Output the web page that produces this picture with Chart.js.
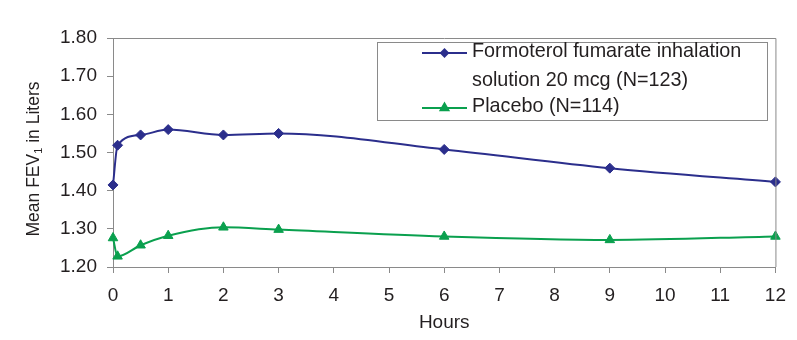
<!DOCTYPE html>
<html>
<head>
<meta charset="utf-8">
<script src="https://cdn.jsdelivr.net/npm/chart.js@4"></script>
<style>
  body { margin: 0; background: #fff; }
  #wrap { width: 797px; height: 340px; }
</style>
</head>
<body>
<div id="wrap"><canvas id="fevChart" width="797" height="340"></canvas></div>
<script>
  // Hours after dose and mean FEV1 (L) for each arm
  const hours = [0, 0.083, 0.5, 1, 2, 3, 6, 9, 12];
  const formoterol = [1.415, 1.519, 1.546, 1.560, 1.546, 1.550, 1.508, 1.459, 1.423];
  const placebo = [1.276, 1.228, 1.257, 1.282, 1.304, 1.298, 1.280, 1.271, 1.280];
  const seriesNames = [['Formoterol fumarate inhalation', 'solution 20 mcg (N=123)'], ['Placebo (N=114)']];
  const xTicks = [0, 1, 2, 3, 4, 5, 6, 7, 8, 9, 10, 11, 12];
  const yTicks = [1.2, 1.3, 1.4, 1.5, 1.6, 1.7, 1.8];

  const blue = '#2b2e8c';
  const green = '#0aa04e';
  const ink = '#231f20';
  const axisGrey = '#8a8a8a';
  const fontFamily = '"Liberation Sans", Arial, sans-serif';

  const toPoints = (ys) => ys.map((y, i) => ({ x: hours[i], y: y }));

  // frame, y title with subscript and the boxed legend
  const decorations = {
    id: 'decorations',
    afterDraw(chart) {
      const ctx = chart.ctx;
      const a = chart.chartArea;
      ctx.save();
      ctx.strokeStyle = axisGrey;
      ctx.lineWidth = 1;
      ctx.beginPath();
      ctx.moveTo(a.left, a.top + 0.5);
      ctx.lineTo(a.right + 0.5, a.top + 0.5);
      ctx.lineTo(a.right + 0.5, a.bottom);
      ctx.stroke();

      // y axis title: Mean FEV1 in Liters
      ctx.fillStyle = ink;
      ctx.translate(34, 159);
      ctx.rotate(-Math.PI / 2);
      ctx.textBaseline = 'middle';
      const big = '17.5px ' + fontFamily;
      const small = '11px ' + fontFamily;
      const parts = ['Mean FEV', '1', ' in Liters'];
      ctx.font = big;
      const w0 = ctx.measureText(parts[0]).width;
      const w2 = ctx.measureText(parts[2]).width;
      ctx.font = small;
      const w1 = ctx.measureText(parts[1]).width;
      let x = -(w0 + w1 + w2) / 2;
      ctx.font = big;
      ctx.fillText(parts[0], x, 0);
      x += w0;
      ctx.font = small;
      ctx.fillText(parts[1], x, 5);
      x += w1;
      ctx.font = big;
      ctx.fillText(parts[2], x, 0);
      ctx.restore();

      // legend box
      ctx.save();
      ctx.fillStyle = '#fff';
      ctx.fillRect(377, 42, 390, 78);
      ctx.strokeStyle = axisGrey;
      ctx.lineWidth = 1;
      ctx.strokeRect(377.5, 42.5, 390, 78);
      const rows = [53, 108];
      chart.data.datasets.forEach((ds, i) => {
        const y = rows[i];
        ctx.strokeStyle = ds.borderColor;
        ctx.lineWidth = 2;
        ctx.beginPath();
        ctx.moveTo(422, y);
        ctx.lineTo(467, y);
        ctx.stroke();
        Chart.helpers.drawPoint(ctx, { pointStyle: ds.pointStyle, radius: i === 0 ? 3.5 : 4.5, borderWidth: 1 }, 444.5, y);
        ctx.fillStyle = ds.borderColor;
        ctx.fill();
        ctx.fillStyle = ink;
        ctx.font = '19.8px ' + fontFamily;
        ctx.textBaseline = 'middle';
        seriesNames[i].forEach((line, k) => ctx.fillText(line, 472, y - 1 + k * 29));
      });
      ctx.restore();
    }
  };

  const ctx = document.getElementById('fevChart').getContext('2d');
  const fevChart = new Chart(ctx, {
    type: 'line',
    data: {
      datasets: [
        {
          label: seriesNames[0].join(' '),
          data: toPoints(formoterol),
          borderColor: blue,
          backgroundColor: blue,
          borderWidth: 2,
          pointStyle: 'rectRot',
          pointRadius: 5,
          pointBorderWidth: 1,
          cubicInterpolationMode: 'monotone',
          clip: false
        },
        {
          label: seriesNames[1].join(' '),
          data: toPoints(placebo),
          borderColor: green,
          backgroundColor: green,
          borderWidth: 2,
          pointStyle: 'triangle',
          pointRadius: 5.5,
          pointBorderWidth: 1,
          cubicInterpolationMode: 'monotone',
          clip: false
        }
      ]
    },
    options: {
      responsive: false,
      animation: false,
      layout: { padding: { top: 38, right: 20, left: 0, bottom: 0 } },
      plugins: { legend: { display: false }, tooltip: { enabled: false } },
      scales: {
        x: {
          type: 'linear',
          min: 0,
          max: 12,
          afterBuildTicks: (scale) => { scale.ticks = xTicks.map(v => ({ value: v })); },
          afterFit: (scale) => { scale.height = 73; },
          grid: { drawOnChartArea: false, drawTicks: true, tickLength: 6, color: axisGrey },
          border: { display: true, color: axisGrey },
          ticks: { color: ink, padding: 11, maxRotation: 0, font: { family: fontFamily, size: 19 } },
          title: { display: true, text: 'Hours', color: ink, padding: { top: 0, bottom: 6 }, font: { family: fontFamily, size: 19 } }
        },
        y: {
          min: 1.2,
          max: 1.8,
          afterBuildTicks: (scale) => { scale.ticks = yTicks.map(v => ({ value: v })); },
          afterFit: (scale) => { scale.width = 113; },
          grid: { drawOnChartArea: false, drawTicks: true, tickLength: 6, color: axisGrey },
          border: { display: true, color: axisGrey },
          ticks: { color: ink, padding: 10, font: { family: fontFamily, size: 19 }, callback: (v) => v.toFixed(2) }
        }
      }
    },
    plugins: [decorations]
  });
</script>
</body>
</html>
